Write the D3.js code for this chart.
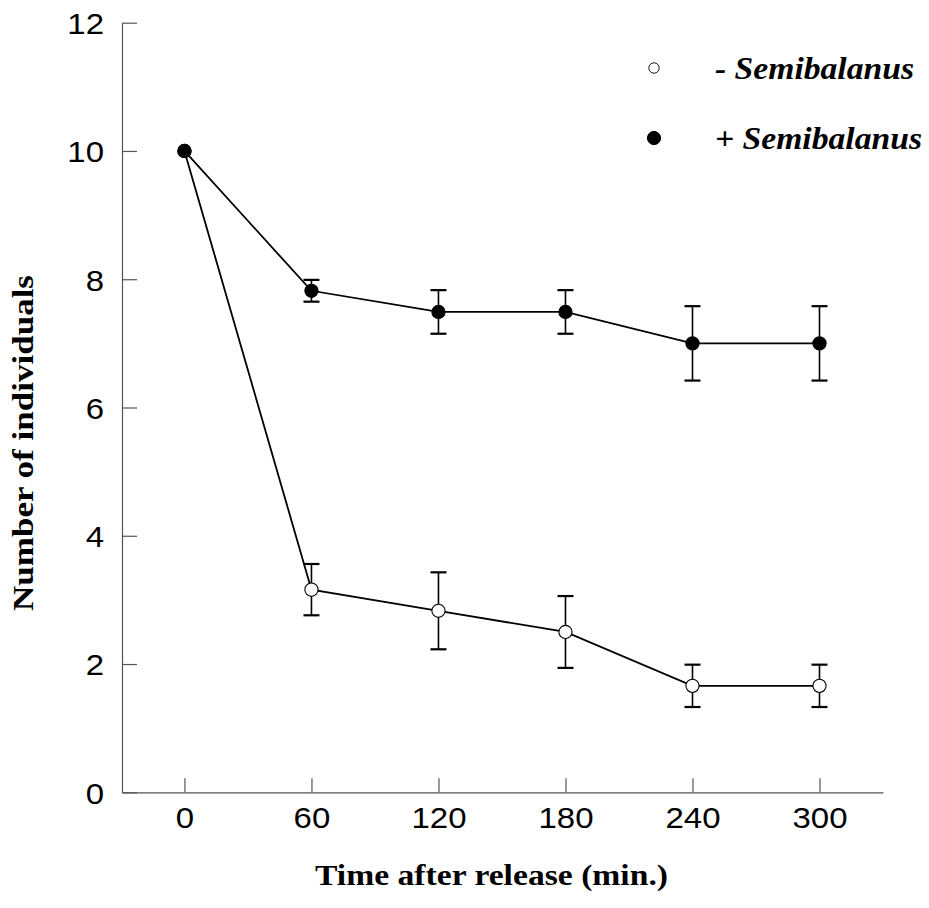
<!DOCTYPE html>
<html>
<head>
<meta charset="utf-8">
<script src="https://cdn.jsdelivr.net/npm/d3@7"></script>
<style>
  html, body { margin: 0; padding: 0; background: #fff; }
  svg { display: block; }
  .serif { font-family: "Times New Roman", Times, "Liberation Serif", serif; font-weight: bold; }
  .sans { font-family: Arial, Helvetica, "Liberation Sans", sans-serif; }
</style>
</head>
<body>
<svg id="chart" width="929" height="908"></svg>
<script>
// Minutes after release
const times = [0, 60, 120, 180, 240, 300];
// Mean number of individuals without Semibalanus (open circles) and its error
const withoutSemi = [10, 3.16, 2.83, 2.50, 1.66, 1.66];
const withoutErr  = [0, 0.40, 0.60, 0.56, 0.33, 0.33];
// Mean number of individuals with Semibalanus (filled circles) and its error
const withSemi = [10, 7.82, 7.49, 7.49, 7.00, 7.00];
const withErr  = [0, 0.17, 0.34, 0.34, 0.58, 0.58];

const xTicks = [0, 60, 120, 180, 240, 300];
const yTicks = [0, 2, 4, 6, 8, 10, 12];
const legendLabels = ["- Semibalanus", "+ Semibalanus"];
const xTitle = "Time after release (min.)";
const yTitle = "Number of individuals";

const svg = d3.select("#chart");

const x = d3.scaleLinear().domain([-29.5, 330]).range([122, 883]);
const y = d3.scaleLinear().domain([0, 12]).range([792.3, 22.7]);

const axisColor = "#555";

// Axes with ticks pointing inward
const xAxis = svg.append("g")
  .attr("transform", `translate(0,${y(0)})`)
  .call(d3.axisBottom(x).tickValues(xTicks).tickSizeInner(-14).tickSizeOuter(0).tickPadding(30));
const yAxis = svg.append("g")
  .attr("transform", `translate(${x.range()[0]},0)`)
  .call(d3.axisLeft(y).tickValues(yTicks).tickSizeInner(-15).tickSizeOuter(0).tickPadding(18));

[xAxis, yAxis].forEach(g => {
  g.attr("font-family", null).attr("font-size", null);
  g.select(".domain").attr("stroke", axisColor).attr("stroke-width", 1.2);
  g.selectAll(".tick line").attr("stroke", axisColor).attr("stroke-width", 1.2);
  g.selectAll(".tick text")
    .attr("class", "sans")
    .attr("fill", "#000")
    .style("font-size", "30px");
});
xAxis.selectAll(".tick text").attr("dy", "0.18em");
yAxis.selectAll(".tick text").attr("dy", "0.36em");
// slightly wider numerals
svg.selectAll(".tick text").each(function () {
  const w = this.getComputedTextLength();
  d3.select(this).attr("textLength", w * 1.1).attr("lengthAdjust", "spacingAndGlyphs");
});

const series = [
  { values: withoutSemi, err: withoutErr, fill: "#fff" },
  { values: withSemi, err: withErr, fill: "#000" }
];

const line = d3.line().x(d => x(d.t)).y(d => y(d.v));

series.forEach(s => {
  const pts = times.map((t, i) => ({ t, v: s.values[i], e: s.err[i] }));

  svg.append("path")
    .datum(pts)
    .attr("fill", "none")
    .attr("stroke", "#000")
    .attr("stroke-width", 1.8)
    .attr("d", line);

  const bars = svg.append("g").selectAll("g")
    .data(pts.filter(d => d.e > 0))
    .join("g")
    .attr("stroke", "#000");
  bars.append("line")
    .attr("x1", d => x(d.t)).attr("x2", d => x(d.t))
    .attr("y1", d => y(d.v + d.e)).attr("y2", d => y(d.v - d.e))
    .attr("stroke-width", 1.6);
  bars.append("line")
    .attr("x1", d => x(d.t) - 8).attr("x2", d => x(d.t) + 8)
    .attr("y1", d => y(d.v + d.e)).attr("y2", d => y(d.v + d.e))
    .attr("stroke-width", 2.2);
  bars.append("line")
    .attr("x1", d => x(d.t) - 8).attr("x2", d => x(d.t) + 8)
    .attr("y1", d => y(d.v - d.e)).attr("y2", d => y(d.v - d.e))
    .attr("stroke-width", 2.2);

  svg.append("g").selectAll("circle")
    .data(pts)
    .join("circle")
    .attr("cx", d => x(d.t))
    .attr("cy", d => y(d.v))
    .attr("r", 6.6)
    .attr("fill", s.fill)
    .attr("stroke", "#000")
    .attr("stroke-width", 1.1);
});

// Legend
const legend = svg.append("g");
const legendY = [68, 138];
const legendWidths = [199, 207];
legendLabels.forEach((lab, i) => {
  legend.append("circle")
    .attr("cx", 654).attr("cy", legendY[i])
    .attr("r", i === 0 ? 5.2 : 6.6)
    .attr("fill", series[i].fill)
    .attr("stroke", "#000")
    .attr("stroke-width", i === 0 ? 0.9 : 1);
  legend.append("text")
    .attr("class", "serif")
    .attr("x", 715).attr("y", legendY[i] + 11)
    .attr("textLength", legendWidths[i])
    .attr("lengthAdjust", "spacingAndGlyphs")
    .style("font-style", "italic")
    .style("font-size", "31px")
    .text(lab);
});

// Axis titles
svg.append("text")
  .attr("class", "serif")
  .attr("x", 491.5).attr("y", 885)
  .attr("text-anchor", "middle")
  .attr("textLength", 353)
  .attr("lengthAdjust", "spacingAndGlyphs")
  .style("font-size", "29px")
  .text(xTitle);

svg.append("text")
  .attr("class", "serif")
  .attr("transform", "translate(33,443) rotate(-90)")
  .attr("text-anchor", "middle")
  .attr("textLength", 336)
  .attr("lengthAdjust", "spacingAndGlyphs")
  .style("font-size", "29px")
  .text(yTitle);
</script>
</body>
</html>
